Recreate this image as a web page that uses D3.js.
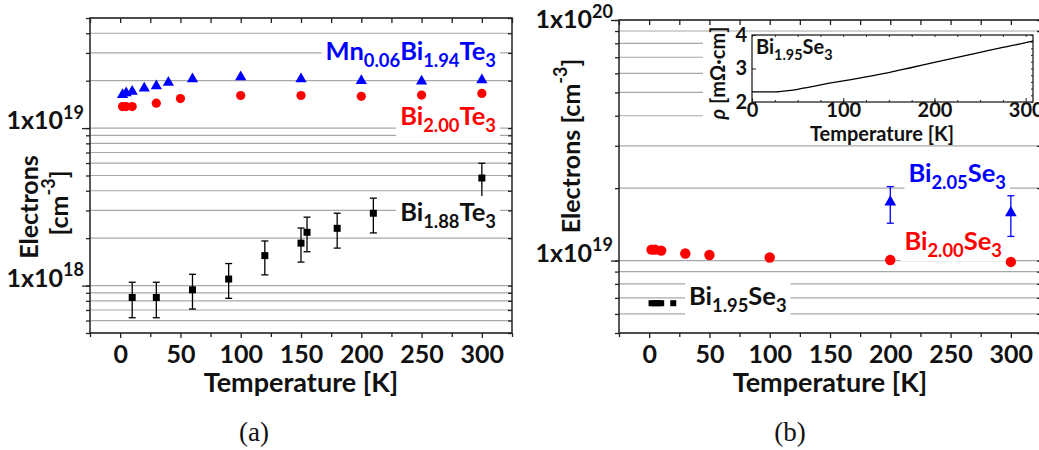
<!DOCTYPE html>
<html>
<head>
<meta charset="utf-8">
<script src="https://cdn.jsdelivr.net/npm/d3@7"></script>
<style>
  body { margin: 0; background: #fff; }
  text { font-family: Lato, "Open Sans", sans-serif; font-weight: bold; }
  .caption { font-family: "Liberation Serif", "DejaVu Serif", serif; font-weight: normal; }
</style>
</head>
<body>
<script>
// ---- panel (a): Bi2Te3 family ----
const tempTeMn = [2, 5, 10, 20, 30, 40, 60, 100, 150, 200, 250, 300];
const nTeMn = [1.63e19, 1.67e19, 1.71e19, 1.79e19, 1.85e19, 1.95e19, 2.05e19, 2.11e19, 2.05e19, 2.0e19, 1.98e19, 2.02e19];

const tempTe200 = [2, 5, 10, 30, 50, 100, 150, 200, 250, 300];
const nTe200 = [1.37e19, 1.37e19, 1.37e19, 1.44e19, 1.54e19, 1.61e19, 1.61e19, 1.59e19, 1.62e19, 1.66e19];

const tempTe188 = [10, 30, 60, 90, 120, 150, 155, 180, 210, 300];
const nTe188 = [8.4e17, 8.4e17, 9.4e17, 1.10e18, 1.55e18, 1.86e18, 2.18e18, 2.31e18, 2.88e18, 4.82e18];
const loTe188 = [6.25e17, 6.25e17, 7.1e17, 8.3e17, 1.17e18, 1.41e18, 1.64e18, 1.73e18, 2.16e18, 3.63e18];
const hiTe188 = [1.05e18, 1.05e18, 1.18e18, 1.38e18, 1.92e18, 2.32e18, 2.72e18, 2.88e18, 3.59e18, 5.98e18];

// ---- panel (b): Bi2Se3 family ----
const tempSe205 = [200, 300];
const nSe205 = [1.75e19, 1.58e19];
const loSe205 = [1.43e19, 1.26e19];
const hiSe205 = [2.03e19, 1.86e19];

const tempSe200 = [2, 5, 10, 30, 50, 100, 200, 300];
const nSe200 = [1.11e19, 1.11e19, 1.10e19, 1.07e19, 1.055e19, 1.03e19, 1.006e19, 0.987e19];

const tempSe195 = [2, 4, 6, 8, 10, 20];
const nSe195 = [6.65e18, 6.65e18, 6.65e18, 6.65e18, 6.65e18, 6.65e18];

// inset: resistivity of Bi1.95Se3
const tempRho = [0, 10, 20, 25, 30, 40, 50, 60, 75, 100, 125, 150, 175, 200, 225, 250, 275, 300, 308];
const rho = [2.30, 2.30, 2.30, 2.30, 2.31, 2.34, 2.38, 2.43, 2.51, 2.63, 2.75, 2.88, 3.03, 3.18, 3.33, 3.48, 3.63, 3.77, 3.82];

const xMajor = [0, 50, 100, 150, 200, 250, 300];
const xMinor = [-25, 25, 75, 125, 175, 225, 275, 325];

const BLUE = '#0000ff', RED = '#ff0000', BLACK = '#000';

const svg = d3.select('body').append('svg')
  .attr('width', 1039)
  .attr('height', 450);

// text with sub/superscripts; parts = [[text, 'sub'|'sup'|undefined], ...]
function rich(sel, parts, size) {
  let off = 0;
  parts.forEach(function(p) {
    const small = p[1] === 'sub' || p[1] === 'sup';
    const shift = p[1] === 'sub' ? size * 0.28 : p[1] === 'sup' ? -size * 0.42 : 0;
    sel.append('tspan')
      .attr('dy', shift - off)
      .attr('font-size', small ? size * 0.72 : size)
      .text(p[0]);
    off = shift;
  });
  return sel;
}

function whiteBox(g, textSel, pad) {
  const b = textSel.node().getBBox();
  g.insert('rect', function() { return textSel.node(); })
    .attr('x', b.x - pad).attr('y', b.y)
    .attr('width', b.width + 2 * pad).attr('height', b.height)
    .attr('fill', '#fff');
}

function logValues(dom) {
  const out = [];
  for (let d = Math.floor(Math.log10(dom[0])); d <= Math.ceil(Math.log10(dom[1])); d++) {
    for (let k = 1; k <= 9; k++) {
      const v = k * Math.pow(10, d);
      if (v >= dom[0] * 0.999 && v <= dom[1] * 1.001) out.push(v);
    }
  }
  return out;
}

function panel(xr, yr, yDom, yLabels) {
  const g = svg.append('g');
  const x = d3.scaleLinear().domain([-25, 325]).range(xr);
  const y = d3.scaleLog().domain(yDom).range(yr);
  const vals = logValues(yDom);
  const majors = vals.filter(function(v) { return Math.abs(Math.log10(v) % 1) < 1e-6; });

  g.append('g').selectAll('line')
    .data(vals)
    .enter()
    .append('line')
    .attr('x1', xr[0]).attr('x2', xr[1])
    .attr('y1', function(v) { return y(v); })
    .attr('y2', function(v) { return y(v); })
    .attr('stroke', '#a8a8a8')
    .attr('stroke-width', 1.2);

  const axes = g.append('g').attr('class', 'axes');
  axes.append('g').attr('transform', 'translate(0,' + yr[0] + ')')
    .call(d3.axisBottom(x).tickValues(xMajor).tickSize(5).tickPadding(7).tickFormat(d3.format('d')));
  axes.append('g').attr('transform', 'translate(0,' + yr[0] + ')')
    .call(d3.axisBottom(x).tickValues(xMinor).tickSize(4).tickFormat(''));
  axes.append('g').attr('transform', 'translate(0,' + yr[1] + ')')
    .call(d3.axisTop(x).tickValues(xMajor.concat(xMinor)).tickSize(-5).tickFormat(''));
  axes.append('g').attr('transform', 'translate(' + xr[0] + ',0)')
    .call(d3.axisLeft(y).tickValues(vals).tickSize(4).tickFormat(''));
  axes.append('g').attr('transform', 'translate(' + xr[0] + ',0)')
    .call(d3.axisLeft(y).tickValues(majors).tickSize(8).tickFormat(''));
  axes.append('g').attr('transform', 'translate(' + xr[1] + ',0)')
    .call(d3.axisRight(y).tickValues(vals).tickSize(-4).tickFormat(''));
  axes.selectAll('.domain').remove();
  axes.selectAll('line').attr('stroke', '#222').attr('stroke-width', 1.3);
  axes.selectAll('text').attr('font-size', 25).attr('fill', '#111')
    .style('font-family', 'Lato').style('font-weight', 'bold');

  g.append('rect')
    .attr('x', xr[0]).attr('y', yr[1])
    .attr('width', xr[1] - xr[0]).attr('height', yr[0] - yr[1])
    .attr('fill', 'none').attr('stroke', '#222').attr('stroke-width', 1.5);

  yLabels.forEach(function(v) {
    const t = g.append('text')
      .attr('x', xr[0] - 6)
      .attr('y', Math.max(y(v) + 1, 28))
      .attr('text-anchor', 'end')
      .attr('fill', '#111');
    rich(t, [['1x10'], [String(Math.round(Math.log10(v))), 'sup']], 25);
  });

  g.append('text')
    .attr('x', (xr[0] + xr[1]) / 2).attr('y', 392)
    .attr('text-anchor', 'middle').attr('font-size', 27).attr('fill', '#111')
    .text('Temperature [K]');

  return { g: g, x: x, y: y };
}

function triangles(p, xs, ys, color, size) {
  p.g.append('g').selectAll('path')
    .data(xs)
    .enter()
    .append('path')
    .attr('d', d3.symbol().type(d3.symbolTriangle).size(size))
    .attr('transform', function(d, i) { return 'translate(' + p.x(d) + ',' + p.y(ys[i]) + ')'; })
    .attr('fill', color);
}

function circles(p, xs, ys, color, r) {
  p.g.append('g').selectAll('circle')
    .data(xs)
    .enter()
    .append('circle')
    .attr('cx', function(d) { return p.x(d); })
    .attr('cy', function(d, i) { return p.y(ys[i]); })
    .attr('r', r)
    .attr('fill', color);
}

function squares(p, xs, ys, color, s) {
  p.g.append('g').selectAll('rect')
    .data(xs)
    .enter()
    .append('rect')
    .attr('x', function(d) { return p.x(d) - s / 2; })
    .attr('y', function(d, i) { return p.y(ys[i]) - s / 2; })
    .attr('width', s).attr('height', s)
    .attr('fill', color);
}

function errorBars(p, xs, lo, hi, color) {
  const g = p.g.append('g').attr('stroke', color).attr('stroke-width', 1.3);
  xs.forEach(function(d, i) {
    const cx = p.x(d);
    g.append('line').attr('x1', cx).attr('x2', cx).attr('y1', p.y(lo[i])).attr('y2', p.y(hi[i]));
    g.append('line').attr('x1', cx - 3.5).attr('x2', cx + 3.5).attr('y1', p.y(lo[i])).attr('y2', p.y(lo[i]));
    g.append('line').attr('x1', cx - 3.5).attr('x2', cx + 3.5).attr('y1', p.y(hi[i])).attr('y2', p.y(hi[i]));
  });
}

function label(p, x, y, parts, color, size, anchor) {
  const t = p.g.append('text')
    .attr('x', x).attr('y', y)
    .attr('text-anchor', anchor || 'end')
    .attr('fill', color);
  rich(t, parts, size);
  whiteBox(p.g, t, 4);
  return t;
}

// ---------- panel (a) ----------
const pa = panel([90, 512], [333, 18], [5e17, 5e19], [1e19, 1e18]);

errorBars(pa, tempTe188, loTe188, hiTe188, BLACK);
squares(pa, tempTe188, nTe188, BLACK, 7);
circles(pa, tempTe200, nTe200, RED, 4.6);
triangles(pa, tempTeMn, nTeMn, BLUE, 55);

label(pa, 496, 60, [['Mn'], ['0.06', 'sub'], ['Bi'], ['1.94', 'sub'], ['Te'], ['3', 'sub']], BLUE, 25.5);
label(pa, 496, 125, [['Bi'], ['2.00', 'sub'], ['Te'], ['3', 'sub']], RED, 25.5);
label(pa, 496, 221, [['Bi'], ['1.88', 'sub'], ['Te'], ['3', 'sub']], '#111', 25.5);

const ylA = svg.append('g').attr('transform', 'translate(28,207) rotate(-90)');
ylA.append('text').attr('text-anchor', 'middle').attr('dominant-baseline', 'central')
  .attr('font-size', 25).attr('fill', '#111').text('Electrons');
rich(svg.append('text').attr('transform', 'translate(58,203) rotate(-90)')
  .attr('text-anchor', 'middle').attr('dominant-baseline', 'central').attr('fill', '#111'),
  [['[cm'], ['-3', 'sup'], [']']], 25);

// ---------- panel (b) ----------
const pb = panel([619, 1041], [333, 20], [5e18, 1e20], [1e20, 1e19]);

errorBars(pb, tempSe205, loSe205, hiSe205, BLUE);
triangles(pb, tempSe205, nSe205, BLUE, 60);
circles(pb, tempSe200, nSe200, RED, 5.2);
squares(pb, tempSe195, nSe195, BLACK, 6);

label(pb, 1006, 182, [['Bi'], ['2.05', 'sub'], ['Se'], ['3', 'sub']], BLUE, 25.5);
label(pb, 1002, 250, [['Bi'], ['2.00', 'sub'], ['Se'], ['3', 'sub']], RED, 25.5);
label(pb, 689, 305, [['Bi'], ['1.95', 'sub'], ['Se'], ['3', 'sub']], '#111', 25.5, 'start');

rich(svg.append('text').attr('transform', 'translate(570,146) rotate(-90)')
  .attr('text-anchor', 'middle').attr('dominant-baseline', 'central').attr('fill', '#111'),
  [['Electrons [cm'], ['-3', 'sup'], [']']], 25);

// ---------- inset ----------
const ins = svg.append('g');
ins.append('rect').attr('x', 703).attr('y', 33).attr('width', 336).attr('height', 112).attr('fill', '#fff');
const ix = d3.scaleLinear().domain([0, 308]).range([752, 1033]);
const iy = d3.scaleLinear().domain([2, 4]).range([102, 35]);

const iax = ins.append('g');
iax.append('g').attr('transform', 'translate(0,102)')
  .call(d3.axisBottom(ix).tickValues([0, 100, 200, 300]).tickSize(-4).tickPadding(1));
iax.append('g').attr('transform', 'translate(0,102)')
  .call(d3.axisBottom(ix).tickValues(d3.range(25, 300, 25)).tickSize(-2).tickFormat(''));
iax.append('g').attr('transform', 'translate(0,35)')
  .call(d3.axisTop(ix).tickValues(d3.range(0, 308, 25)).tickSize(-2).tickFormat(''));
iax.append('g').attr('transform', 'translate(752,0)')
  .call(d3.axisLeft(iy).tickValues([2, 3, 4]).tickSize(-4).tickPadding(5).tickFormat(d3.format('d')));
iax.append('g').attr('transform', 'translate(1033,0)')
  .call(d3.axisRight(iy).tickValues(d3.range(2, 4.01, 0.2)).tickSize(-2).tickFormat(''));
iax.selectAll('.domain').remove();
iax.selectAll('line').attr('stroke', '#222');
iax.selectAll('text').attr('font-size', 20).attr('fill', '#111')
  .style('font-family', 'Lato').style('font-weight', 'bold');

ins.append('rect').attr('x', 752).attr('y', 35).attr('width', 281).attr('height', 67)
  .attr('fill', 'none').attr('stroke', '#222').attr('stroke-width', 1.3);

ins.append('path')
  .datum(tempRho)
  .attr('d', d3.line()
    .x(function(d) { return ix(d); })
    .y(function(d, i) { return iy(rho[i]); })
    .curve(d3.curveMonotoneX))
  .attr('fill', 'none').attr('stroke', '#000').attr('stroke-width', 1.3);

rich(ins.append('text').attr('x', 756).attr('y', 54).attr('fill', '#111'),
  [['Bi'], ['1.95', 'sub'], ['Se'], ['3', 'sub']], 20);
ins.append('text').attr('x', 882).attr('y', 141).attr('text-anchor', 'middle')
  .attr('font-size', 20).attr('fill', '#111').text('Temperature [K]');
const rl = ins.append('text').attr('transform', 'translate(717,73) rotate(-90)')
  .attr('text-anchor', 'middle').attr('dominant-baseline', 'central')
  .attr('font-size', 20).attr('fill', '#111');
rl.append('tspan').style('font-style', 'italic').text('ρ');
rl.append('tspan').text(' [mΩ·cm]');

// ---------- captions ----------
svg.append('text').attr('class', 'caption').attr('x', 254).attr('y', 441)
  .attr('text-anchor', 'middle').attr('font-size', 27).attr('fill', '#111').text('(a)');
svg.append('text').attr('class', 'caption').attr('x', 790).attr('y', 441)
  .attr('text-anchor', 'middle').attr('font-size', 27).attr('fill', '#111').text('(b)');
</script>
</body>
</html>
